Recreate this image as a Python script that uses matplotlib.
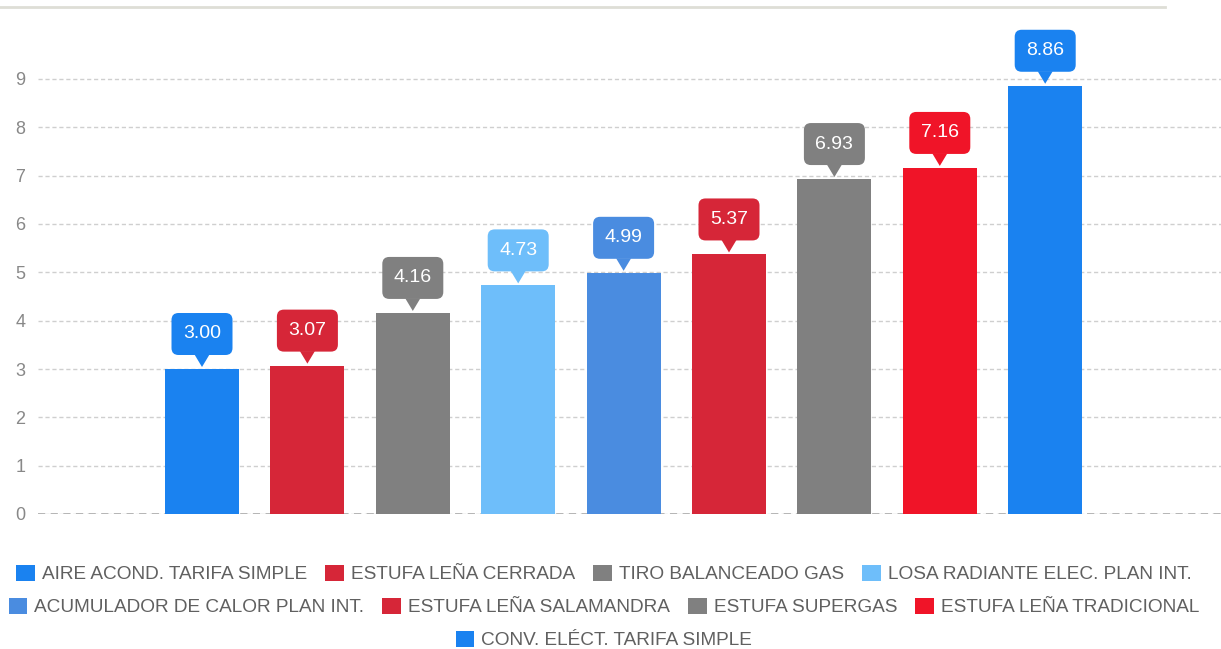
import matplotlib
matplotlib.use('Agg')
import matplotlib.pyplot as plt
from matplotlib.patches import FancyBboxPatch, Polygon, Patch
from matplotlib.transforms import Affine2D, ScaledTranslation
from matplotlib.lines import Line2D

categories = ["AIRE ACOND. TARIFA SIMPLE", "ESTUFA LEÑA CERRADA", "TIRO BALANCEADO GAS",
              "LOSA RADIANTE ELEC. PLAN INT.", "ACUMULADOR DE CALOR PLAN INT.",
              "ESTUFA LEÑA SALAMANDRA", "ESTUFA SUPERGAS", "ESTUFA LEÑA TRADICIONAL",
              "CONV. ELÉCT. TARIFA SIMPLE"]
values = [3.00, 3.07, 4.16, 4.73, 4.99, 5.37, 6.93, 7.16, 8.86]
colors = ["#1a82f0", "#d62638", "#808080", "#6ebefa", "#4a8ce0",
          "#d62638", "#808080", "#f01428", "#1a82f0"]
yticks = list(range(0, 10))

plt.rcParams['font.family'] = ['Liberation Sans', 'DejaVu Sans']

W, H = 1221, 649
fig = plt.figure(figsize=(W / 100, H / 100), dpi=100)
y0 = 514
ppu = (514 - 79) / 9
ytop = 10.2
ax = fig.add_axes([38 / W, (H - y0) / H, 1 - 38 / W, ytop * ppu / H])

step = 105.4
xpos = list(range(len(values)))
ax.set_xlim((38 - 202) / step, (1221 - 202) / step)
ax.set_ylim(0, ytop)
ax.bar(xpos, values, width=74 / step, color=colors, zorder=3)

ax.set_yticks(yticks)
ax.set_xticks([])
ax.yaxis.grid(True, linestyle=(0, (3, 2)), color='#cfcfcf', lw=1, zorder=0)
ax.axhline(0, color='#b0b0b0', ls=(0, (4, 3)), lw=1.3, zorder=2)
for s in ax.spines.values():
    s.set_visible(False)
ax.tick_params(axis='y', length=0, pad=9, labelsize=13, labelcolor='#888888')

for i, (v, c) in enumerate(zip(values, colors)):
    tr = Affine2D() + ScaledTranslation(i, v, ax.transData)
    box = FancyBboxPatch((-30.5, 14), 61, 42, boxstyle='round,pad=0,rounding_size=7',
                         fc=c, ec='none', transform=tr, zorder=4, clip_on=False)
    ax.add_patch(box)
    tri = Polygon([(-7.5, 14.5), (7.5, 14.5), (0, 2)], closed=True, fc=c, ec='none',
                  transform=tr, zorder=4, clip_on=False)
    ax.add_patch(tri)
    ax.text(0, 35, f"{v:.2f}", transform=tr, ha='center', va='center',
            color='white', fontsize=14, zorder=5)

fig.add_artist(Line2D([0, 1165 / W], [1 - 7 / H] * 2, color='#deded6', lw=2))

rows = [(0, 4, 574), (4, 8, 607), (8, 9, 640)]
for a, b, yy in rows:
    handles = [Patch(facecolor=colors[k], edgecolor='none') for k in range(a, b)]
    fig.legend(handles, categories[a:b], loc='center', bbox_to_anchor=(0.4947, 1 - yy / H),
               ncol=b - a, frameon=False, fontsize=13.7, handlelength=0.98,
               handleheight=0.98, handletextpad=0.37, columnspacing=0.95,
               labelcolor='#606060', borderpad=0, borderaxespad=0)

fig.savefig('out.png', dpi=100)
